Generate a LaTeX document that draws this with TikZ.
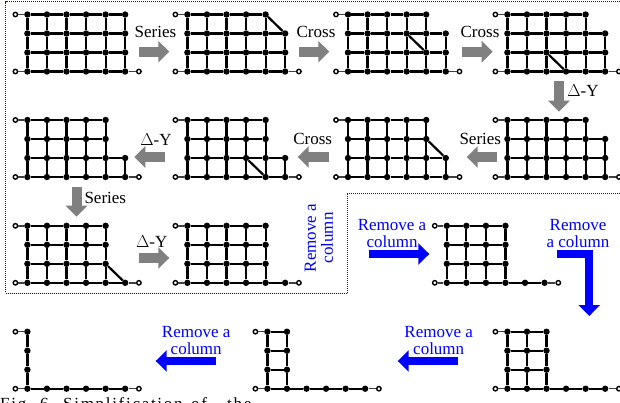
\documentclass[tikz,border=0pt]{standalone}
\usepackage{fontspec}
\setmainfont{Liberation Serif}
\usetikzlibrary{arrows.meta}
\definecolor{stepgray}{HTML}{808080}
\definecolor{markblue}{HTML}{0000FF}
\tikzset{
	net/.style={circle, fill=black, inner sep=0pt, minimum width=6.4pt},
	pin/.style={circle, draw=black, fill=white, line width=1.4pt, inner sep=0pt, minimum width=4.4pt},
	wire/.style={black, line width=2.2pt},
	lead/.style={black!75, line width=1.4pt},
	tag/.style={font=\fontsize{17}{17}\selectfont, inner sep=0pt, align=center},
	bluetag/.style={tag, text=markblue},
	captext/.style={font=\fontsize{17}{17}\selectfont\addfontfeature{LetterSpace=10}, inner sep=0pt, anchor=base west},
	stepedge/.style={stepgray, line width=10pt, -{Triangle[length=11pt, width=21pt]}},
	coledge/.style={markblue, line width=7.8pt, line join=miter, -{Triangle[length=11pt, width=21pt]}}
}
% one grid: name, x, y of top left net node, last column of rows 0, 1, 2 (row 3 always runs to column 5)
\newcommand{\gridnet}[6]{
	\foreach \r/\w in {0/#4, 1/#5, 2/#6, 3/5}
		\foreach \c in {0,...,\w}
			\node[net] (#1-\c-\r) at ({#2+\c*19.55},{#3+\r*19}) {};
	\node[pin] (#1-a) at ({#2-12},#3) {};
	\node[pin] (#1-b) at ({#2-12},{#3+57}) {};
	\node[pin] (#1-c) at ({#2+111.5},{#3+57}) {};
	\draw[lead] (#1-a) -- (#1-0-0);
	\draw[lead] (#1-b) -- (#1-0-3);
	\draw[lead] (#1-c) -- (#1-5-3);
	\foreach \r/\w in {0/#4, 1/#5, 2/#6, 3/5}
		\foreach \c [remember=\c as \p (initially 0)] in {0,...,\w}
			\draw[wire] (#1-\p-\r) -- (#1-\c-\r);
	\foreach \r/\w [remember=\r as \q (initially 0)] in {1/#4, 2/#5, 3/#6}
		\foreach \c in {0,...,\w}
			\draw[wire] (#1-\c-\q) -- (#1-\c-\r);
}
\begin{document}
\begin{tikzpicture}[x=1pt, y=-1pt]
	\useasboundingbox (0,0) rectangle (620,403);

	% dotted frame
	\draw[markblue, line width=1pt, dash pattern=on 1pt off 1pt] (620,1.7) -- (5.7,1.7) -- (5.7,293.3) -- (347.3,293.3) -- (347.3,194) -- (620,194);

	% first row
	\gridnet{ga}{27.4}{14.5}{5}{5}{5}
	\gridnet{gb}{187.4}{14.5}{4}{5}{5}
	\gridnet{gc}{348}{14.5}{4}{5}{5}
	\gridnet{gd}{507.4}{14.5}{4}{5}{5}
	\draw[wire] (gb-4-0) -- (gb-5-1);
	\draw[wire] (gc-3-1) -- (gc-4-2);
	\draw[wire] (gd-2-2) -- (gd-3-3);

	% second row
	\gridnet{ge}{507.4}{120}{4}{5}{5}
	\gridnet{gf}{348}{120}{4}{4}{5}
	\gridnet{gg}{187.4}{120}{4}{4}{5}
	\gridnet{gh}{27.4}{120}{4}{4}{5}
	\draw[wire] (gf-4-1) -- (gf-5-2);
	\draw[wire] (gg-3-2) -- (gg-4-3);

	% third row
	\gridnet{gi}{27.4}{225.8}{4}{4}{4}
	\gridnet{gj}{187.4}{225.8}{4}{4}{4}
	\gridnet{gk}{446.8}{225.8}{3}{3}{3}
	\draw[wire] (gi-4-2) -- (gi-5-3);

	% fourth row
	\gridnet{gl}{507.4}{331.7}{2}{2}{2}
	\gridnet{gm}{267.4}{331.7}{1}{1}{1}
	\gridnet{gn}{27.4}{331.7}{0}{0}{0}

	% ends of the arrows
	\coordinate (sa) at (139,51.7);
	\coordinate (sb) at (169.3,51.7);
	\coordinate (ca) at (299,51.7);
	\coordinate (cb) at (329.3,51.7);
	\coordinate (da) at (462,51.7);
	\coordinate (db) at (492.7,51.7);
	\coordinate (ea) at (559,81);
	\coordinate (eb) at (559,111.7);
	\coordinate (fa) at (496.7,157);
	\coordinate (fb) at (466.7,157);
	\coordinate (ha) at (329,157);
	\coordinate (hb) at (297.7,157);
	\coordinate (ia) at (165,157);
	\coordinate (ib) at (134.3,157);
	\coordinate (ja) at (76.5,187.3);
	\coordinate (jb) at (76.5,216.7);
	\coordinate (ka) at (139,258);
	\coordinate (kb) at (169.3,258);
	\coordinate (ma) at (369,254);
	\coordinate (mb) at (429.3,254);
	\coordinate (na) at (557.3,254);
	\coordinate (nb) at (589.3,316);
	\coordinate (oa) at (457.7,361);
	\coordinate (ob) at (397.7,361);
	\coordinate (pa) at (216,361);
	\coordinate (pb) at (155.7,361);

	\draw[stepedge] (sa) -- (sb);
	\draw[stepedge] (ca) -- (cb);
	\draw[stepedge] (da) -- (db);
	\draw[stepedge] (ea) -- (eb);
	\draw[stepedge] (fa) -- (fb);
	\draw[stepedge] (ha) -- (hb);
	\draw[stepedge] (ia) -- (ib);
	\draw[stepedge] (ja) -- (jb);
	\draw[stepedge] (ka) -- (kb);
	\draw[coledge] (ma) -- (mb);
	\draw[coledge] (na) -| (nb);
	\draw[coledge] (oa) -- (ob);
	\draw[coledge] (pa) -- (pb);

	% labels
	\node[tag] (ls) at (155.5,32) {Series};
	\node[tag] (lc) at (316,32) {Cross};
	\node[tag] (ld) at (480,32) {Cross};
	\node[tag] (le) at (583,90.7) {$\Delta$-Y};
	\node[tag] (lf) at (480.3,139.3) {Series};
	\node[tag] (lh) at (312.7,139.3) {Cross};
	\node[tag] (li) at (156,139.3) {$\Delta$-Y};
	\node[tag] (lj) at (105.3,198.3) {Series};
	\node[tag] (lk) at (151.7,241.7) {$\Delta$-Y};
	\node[bluetag, rotate=90] (lr) at (319,238) {Remove a\\column};
	\node[bluetag] (lm) at (392,233.2) {Remove a\\column};
	\node[bluetag] (ln) at (578,233.7) {Remove\\a column};
	\node[bluetag] (lo) at (438.7,341) {Remove a\\column};
	\node[bluetag] (lp) at (196.2,341) {Remove a\\column};

	% caption, cut by the lower edge
	\node[captext] (cap1) at (0,409) {Fig. 6.};
	\node[captext] (cap2) at (63,409) {Simplification};
	\node[captext] (cap3) at (191,409) {of};
	\node[captext] (cap4) at (227,409) {the};
\end{tikzpicture}
\end{document}
